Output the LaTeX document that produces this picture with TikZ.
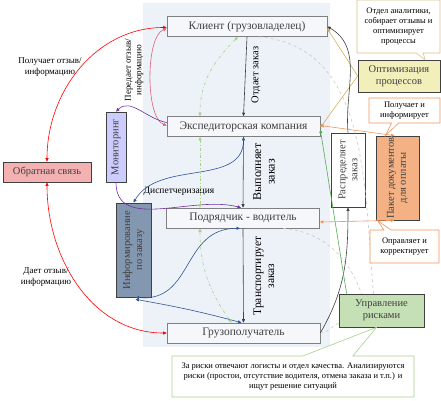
\documentclass[tikz,border=0pt]{standalone}
\usepackage{fontspec}
\setmainfont{Liberation Serif}
\usetikzlibrary{arrows.meta,shapes.callouts}

\definecolor{bgpanel}{RGB}{237,241,248}
\definecolor{boxfill}{RGB}{245,247,251}
\definecolor{boxline}{RGB}{127,127,127}
\definecolor{txt}{RGB}{64,64,64}
\definecolor{fbred}{RGB}{244,177,177}
\definecolor{monlav}{RGB}{204,204,255}
\definecolor{infoblue}{RGB}{132,151,176}
\definecolor{docsor}{RGB}{244,177,131}
\definecolor{optyel}{RGB}{242,239,186}
\definecolor{riskgr}{RGB}{197,224,180}
\definecolor{arrred}{RGB}{255,0,0}
\definecolor{arrpink}{RGB}{224,96,112}
\definecolor{arrpurp}{RGB}{112,48,160}
\definecolor{arrblue}{RGB}{47,85,151}
\definecolor{arrdash}{RGB}{169,209,142}
\definecolor{arrgray}{RGB}{200,200,200}
\definecolor{arrtan}{RGB}{214,176,92}
\definecolor{arrorange}{RGB}{240,150,90}
\definecolor{arrgreen}{RGB}{84,170,84}
\definecolor{calltan}{RGB}{217,195,140}
\definecolor{callgreen}{RGB}{169,209,142}

\begin{document}
\begin{tikzpicture}[x=1pt,y=-1pt,
  >={Triangle[length=3.5pt,width=3pt]},
  every node/.style={font=\fontsize{10.5}{12}\selectfont, text=txt},
  party/.style={draw=boxline, fill=boxfill, minimum width=153pt, minimum height=20pt, inner sep=0pt, line width=0.6pt, font=\fontsize{11.5}{13}\selectfont},
  sidebox/.style={draw=txt, line width=0.7pt, inner sep=0pt, align=center},
  vbox/.style={sidebox, rotate=90},
  edgelab/.style={font=\fontsize{9}{10.5}\selectfont, text=black, align=center},
  note/.style={rectangle callout, fill=white, line width=0.6pt, align=center, inner sep=1pt, font=\fontsize{8.5}{10}\selectfont, text=black},
  link/.style={line width=0.6pt}]

     \useasboundingbox (0,0) rectangle (441,400);
     \fill[bgpanel] (143,3) rectangle (330,347);

     \node[party, minimum width=160pt] (client) at (247,26.5) {Клиент (грузовладелец)};
     \node[party] (exped) at (243.5,126.5) {Экспедиторская компания};
     \node[party] (contr) at (243,218) {Подрядчик - водитель};
     \node[party] (cons) at (243.5,333) {Грузополучатель};

     \node[sidebox, fill=fbred, minimum width=88pt, minimum height=20pt] (feedback) at (47,172) {Обратная связь};
     % rotated boxes: .east is the top, .west the bottom
     \node[vbox, fill=monlav, minimum width=70pt, minimum height=20pt] (monitor) at (116,147) {Мониторинг};
     \node[vbox, fill=infoblue, minimum width=94pt, minimum height=35pt] (inform) at (133.5,250) {Информирование\\по заказу};
     \node[vbox, fill=white, minimum width=74pt, minimum height=34pt] (distrib) at (348,170) {Распределяет\\заказ};
     \node[vbox, fill=docsor, minimum width=84pt, minimum height=43pt] (docs) at (397.5,178) {Пакет документов\\для оплаты};
     \node[sidebox, fill=optyel, minimum width=82pt, minimum height=32pt] (optim) at (399,76) {Оптимизация\\процессов};
     \node[sidebox, fill=riskgr, minimum width=85pt, minimum height=33pt] (risk) at (381.5,310.5) {Управление\\рисками};

     \node[edgelab, rotate=90, font=\fontsize{10.5}{12}\selectfont] (lbgive) at (256,75) {Отдает заказ};
     \node[edgelab, rotate=90, font=\fontsize{12}{13.5}\selectfont] (lbdo) at (264,172) {Выполняет\\заказ};
     \node[edgelab, rotate=90, font=\fontsize{11.5}{13}\selectfont] (lbcarry) at (264,276) {Транспортирует\\заказ};
     \node[edgelab, font=\fontsize{9.5}{11}\selectfont] (lbdisp) at (179,191) {Диспетчеризация};
     \node[edgelab, rotate=90] (lbpass) at (134,70) {Передает отзыв/\\информацию};
     \node[edgelab] (lbget) at (50,67) {Получает отзыв/\\информацию};
     \node[edgelab] (lbgivefb) at (46,277) {Дает отзыв/\\информацию};

     \draw[link, ->, txt] (client.south) -- (exped.north);
     \draw[link, ->, txt] (exped.south) -- (contr.north);
     \draw[link, ->, txt] (contr.south) -- (cons.north);

     \draw[link, <->, arrred] (feedback.north) to[out=90,in=180] ([yshift=-1pt]client.west);
     \draw[link, <->, arrred] (feedback.south) to[out=-90,in=180] (cons.west);
     \draw[link, <->, arrpink] ([yshift=-2pt]client.west) to[out=200,in=160,looseness=0.6] ([yshift=1pt]exped.west);

     \draw[link, ->, arrpurp] ([yshift=4pt]exped.west) to[out=170,in=45] (monitor.east);
     \draw[link, ->, arrpurp] (monitor.west) to[out=-90,in=165] ([xshift=-2pt]contr.north);

     \draw[link, <->, arrblue] (inform.east) to[out=60,in=-90] (exped.south);
     \draw[link, <->, arrblue] ([xshift=2pt]inform.west) to[out=-5,in=180,looseness=1.2] ([xshift=-3pt]contr.south);
     \draw[link, <->, arrblue] ([xshift=2pt,yshift=-2pt]inform.west) to[out=-10,in=165] ([xshift=-2pt]cons.north);

     \draw[link, <->, arrdash, dashdotted] ([xshift=-9pt]client.south) to[out=225,in=90] ([xshift=-43.5pt]exped.north);
     \draw[link, <->, arrdash, dashdotted] ([xshift=-43.5pt]exped.south) -- ([xshift=-43pt]contr.north);
     \draw[link, <->, arrdash, dashdotted] ([xshift=-43pt]contr.south) to[out=-90,in=125] ([xshift=-12pt]cons.north);

     \draw[link, arrgray, dashed] ([xshift=12pt]client.south) to[out=-5,in=95] ([xshift=-8pt]risk.north);
     \draw[link, arrgray, dashed] ([xshift=40pt]contr.south) to[out=-5,in=110] ([xshift=-20pt]risk.north);
     \draw[link, arrgray, dashed] (cons.east) to[out=0,in=200] ([yshift=4pt]risk.south west);

     \draw[link, ->, arrtan] (optim.west) -- ([yshift=-2pt]client.east);
     \draw[link, ->, arrtan] (optim.west) -- ([yshift=-1pt]exped.east);

     \draw[link, ->, txt] (cons.east) to[out=60,in=-90] (distrib.west);
     \draw[link, ->, txt] (distrib.east) to[out=95,in=-30] (client.east);

     \draw[link, ->, arrgreen] ([xshift=8pt]risk.north west) -- ([yshift=-3pt]exped.east);

     \draw[link, <->, arrorange] ([yshift=1pt]exped.east) -- ([xshift=-3pt]docs.east);
     \draw[link, <->, arrorange] ([yshift=-4pt]contr.east) -- ([xshift=-3pt]docs.west);

     \node[note, draw=calltan, minimum width=83pt, minimum height=53pt, callout absolute pointer={([xshift=26pt]optim.north)}] (noteopt) at (398.5,26.5) {Отдел аналитики,\\собирает отзывы и\\оптимизирует\\процессы};
     \node[note, draw=arrorange, minimum width=71pt, minimum height=25pt, callout absolute pointer={([xshift=-12pt]docs.east)}] (notedocs) at (404.5,110.5) {Получает и\\информирует};
     \node[note, draw=arrorange, minimum width=69pt, minimum height=33pt, callout absolute pointer={([xshift=-20pt]docs.west)}] (notesend) at (404.5,246.5) {Оправляет и\\корректирует};
     \node[note, draw=callgreen, minimum width=242pt, minimum height=41pt, callout pointer width=50pt, callout absolute pointer={([xshift=-5pt]risk.south)}] (noterisk) at (293,376.5) {За риски отвечают логисты и отдел качества. Анализируются\\риски (простои, отсутствие водителя, отмена заказа и т.п.) и\\ищут решение ситуаций};

\end{tikzpicture}
\end{document}
